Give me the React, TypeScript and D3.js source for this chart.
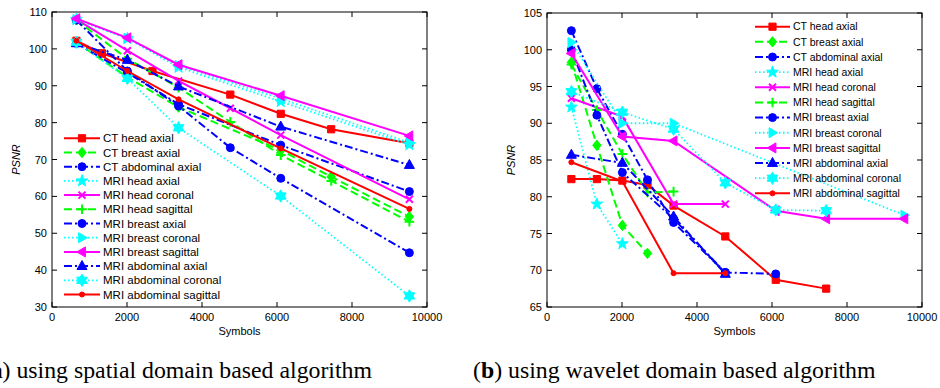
import React from 'react';
import * as d3 from 'd3';

// ---------- data ----------
const SERIES_NAMES = [
  'CT head axial',
  'CT breast axial',
  'CT abdominal axial',
  'MRI head axial',
  'MRI head coronal',
  'MRI head sagittal',
  'MRI breast axial',
  'MRI breast coronal',
  'MRI breast sagittal',
  'MRI abdominal axial',
  'MRI abdominal coronal',
  'MRI abdominal sagittal',
];

const X_TICKS = [0, 2000, 4000, 6000, 8000, 10000];
const SPATIAL_Y_TICKS = [30, 40, 50, 60, 70, 80, 90, 100, 110];
const WAVELET_Y_TICKS = [65, 70, 75, 80, 85, 90, 95, 100, 105];

// (a) spatial domain: symbols per series
const SPATIAL_X = [
  [650, 1330, 2680, 4755, 6100, 7445, 9530],
  [650, 2010, 3375, 6100, 7445, 9530],
  [650, 2010, 3375, 6100, 9530],
  [650, 2010, 3375, 6100, 9530],
  [650, 2010, 3375, 4755, 6100, 9530],
  [650, 2010, 3375, 4755, 6100, 7445, 9530],
  [650, 2010, 3375, 4755, 6100, 9530],
  [650, 2010, 3375, 6100, 9530],
  [650, 2010, 3375, 6100, 9530],
  [650, 2010, 3375, 6100, 9530],
  [650, 2010, 3375, 6100, 9530],
  [650, 2010, 3375, 6100, 9530],
];
// (a) spatial domain: PSNR per series
const SPATIAL_Y = [
  [102.2, 98.8, 94.0, 87.6, 82.4, 78.2, 74.4],
  [101.8, 92.3, 84.2, 72.5, 65.3, 54.5],
  [101.5, 93.5, 85.0, 73.9, 61.3],
  [108.0, 102.8, 95.0, 85.7, 74.0],
  [108.0, 99.5, 91.3, 83.9, 76.6, 59.2],
  [107.8, 97.3, 89.5, 80.2, 71.2, 64.2, 53.1],
  [107.8, 94.0, 84.5, 73.2, 64.9, 44.7],
  [108.0, 102.9, 95.5, 86.5, 74.6],
  [108.2, 103.0, 95.7, 87.3, 76.4],
  [101.5, 97.0, 89.8, 78.9, 68.5],
  [101.8, 92.0, 78.6, 60.1, 33.0],
  [102.2, 94.0, 86.3, 73.0, 56.6],
];

// (b) wavelet domain: symbols per series
const WAVELET_X = [
  [650, 1330, 2010, 2680, 3375, 4755, 6100, 7445],
  [650, 1330, 2010, 2680],
  [650, 1330, 2010, 2680, 3375, 4755, 6100],
  [650, 1330, 2010],
  [650, 2010, 3375, 4755],
  [650, 1330, 2010, 2680, 3375],
  [650, 1330, 2010, 3375, 4755],
  [650, 2010, 3375, 9530],
  [650, 2010, 3375, 6100, 7445, 9530],
  [650, 2010, 3375, 4755],
  [650, 2010, 3375, 4755, 6100, 7445],
  [650, 2010, 3375, 4755],
];
// (b) wavelet domain: PSNR per series
const WAVELET_Y = [
  [82.4, 82.4, 82.2, 81.6, 78.8, 74.6, 68.7, 67.5],
  [98.3, 87.0, 76.1, 72.3],
  [102.6, 94.7, 88.5, 82.3, 76.5, 69.7, 69.5],
  [92.2, 79.0, 73.6],
  [93.4, 90.9, 79.0, 79.0],
  [98.0, 91.8, 85.8, 80.6, 80.7],
  [100.0, 91.1, 83.3, 77.0, 69.7],
  [101.0, 90.0, 90.0, 77.5],
  [99.5, 88.2, 87.6, 78.1, 77.0, 77.0],
  [85.7, 84.6, 77.3, 69.5],
  [94.3, 91.5, 89.2, 81.9, 78.2, 78.1],
  [84.7, 82.1, 69.6, 69.6],
];

// ---------- styles ----------
const RED = '#ff0000', GREEN = '#00ff00', BLUE = '#0000ff', CYAN = '#00ffff', MAG = '#ff00ff';
const STYLES = [
  { color: RED, dash: 'solid', marker: 'square' },
  { color: GREEN, dash: 'dashed', marker: 'diamond' },
  { color: BLUE, dash: 'dashdot', marker: 'circle' },
  { color: CYAN, dash: 'dotted', marker: 'pentagram' },
  { color: MAG, dash: 'solid', marker: 'x' },
  { color: GREEN, dash: 'dashed', marker: 'plus' },
  { color: BLUE, dash: 'dashdot', marker: 'circle' },
  { color: CYAN, dash: 'dotted', marker: 'triright' },
  { color: MAG, dash: 'solid', marker: 'trileft' },
  { color: BLUE, dash: 'dashdot', marker: 'triup' },
  { color: CYAN, dash: 'dotted', marker: 'hexagram' },
  { color: RED, dash: 'solid', marker: 'dot' },
];

const DASH: Record<string, string | undefined> = {
  solid: undefined,
  dashed: '8,4',
  dashdot: '8,3,2,3',
  dotted: '1.5,2.5',
};

function starPath(points: number, R: number, r: number): string {
  const pts: string[] = [];
  for (let i = 0; i < points * 2; i++) {
    const a = -Math.PI / 2 + (i * Math.PI) / points;
    const rad = i % 2 === 0 ? R : r;
    pts.push(`${(rad * Math.cos(a)).toFixed(2)},${(rad * Math.sin(a)).toFixed(2)}`);
  }
  return 'M' + pts.join('L') + 'Z';
}

function markerPath(m: string): string {
  switch (m) {
    case 'square':
      return 'M-3.6,-3.6h7.2v7.2h-7.2Z';
    case 'diamond':
      return 'M0,-5.2L4.2,0L0,5.2L-4.2,0Z';
    case 'circle':
      return d3.symbol(d3.symbolCircle, 50)()!;
    case 'pentagram':
      return starPath(5, 6.2, 2.5);
    case 'hexagram':
      return starPath(6, 6.2, 3.6);
    case 'x':
      return 'M-3.5,-3.5L3.5,3.5M-3.5,3.5L3.5,-3.5';
    case 'plus':
      return 'M-4.8,0H4.8M0,-4.8V4.8';
    case 'triright':
      return 'M5.2,0L-3.4,-5L-3.4,5Z';
    case 'trileft':
      return 'M-5.2,0L3.4,-5L3.4,5Z';
    case 'triup':
      return 'M0,-5.6L5,3.4L-5,3.4Z';
    case 'dot':
      return d3.symbol(d3.symbolCircle, 20)()!;
    default:
      return '';
  }
}

function Marker({ m, color, x, y }: { m: string; color: string; x: number; y: number }) {
  const open = m === 'x' || m === 'plus';
  return (
    <path
      d={markerPath(m)}
      transform={`translate(${x},${y})`}
      fill={open ? 'none' : color}
      stroke={color}
      strokeWidth={open ? 2 : 1}
    />
  );
}

interface ChartProps {
  x0: number; x1: number; y0: number; y1: number;
  yDomain: [number, number];
  yTicks: number[];
  xs: number[][];
  ys: number[][];
  legendX: number; legendY: number; legendStep: number; legendFont: number; legendLine: number;
  ylabelX: number;
}

function Chart(p: ChartProps) {
  const xScale = d3.scaleLinear().domain([0, 10000]).range([p.x0, p.x1]);
  const yScale = d3.scaleLinear().domain(p.yDomain).range([p.y1, p.y0]);
  const line = d3
    .line<[number, number]>()
    .x((d) => xScale(d[0]))
    .y((d) => yScale(d[1]));
  const tick = 5;
  return (
    <g>
      {p.xs.map((xv, i) => {
        const st = STYLES[i];
        const pts = xv.map((x, j) => [x, p.ys[i][j]] as [number, number]);
        return (
          <g key={i}>
            <path
              d={line(pts)!}
              fill="none"
              stroke={st.color}
              strokeWidth={st.dash === 'dotted' ? 1.8 : 2}
              strokeDasharray={DASH[st.dash]}
            />
            {pts.map((d, j) => (
              <Marker key={j} m={st.marker} color={st.color} x={xScale(d[0])} y={yScale(d[1])} />
            ))}
          </g>
        );
      })}
      <rect x={p.x0} y={p.y0} width={p.x1 - p.x0} height={p.y1 - p.y0} fill="none" stroke="#000" strokeWidth={1} />
      {X_TICKS.map((t) => (
        <g key={'x' + t}>
          <line x1={xScale(t)} x2={xScale(t)} y1={p.y1} y2={p.y1 - tick} stroke="#000" />
          <line x1={xScale(t)} x2={xScale(t)} y1={p.y0} y2={p.y0 + tick} stroke="#000" />
          <text x={xScale(t)} y={p.y1 + 14} textAnchor="middle" fontSize={11}>
            {t}
          </text>
        </g>
      ))}
      {p.yTicks.map((t) => (
        <g key={'y' + t}>
          <line x1={p.x0} x2={p.x0 + tick} y1={yScale(t)} y2={yScale(t)} stroke="#000" />
          <line x1={p.x1} x2={p.x1 - tick} y1={yScale(t)} y2={yScale(t)} stroke="#000" />
          <text x={p.x0 - 5} y={yScale(t) + 4} textAnchor="end" fontSize={11}>
            {t}
          </text>
        </g>
      ))}
      <text x={(p.x0 + p.x1) / 2} y={p.y1 + 28} textAnchor="middle" fontSize={11}>
        Symbols
      </text>
      <text
        transform={`translate(${p.ylabelX},${(p.y0 + p.y1) / 2}) rotate(-90)`}
        textAnchor="middle"
        fontSize={11}
        fontStyle="italic"
      >
        PSNR
      </text>
      {SERIES_NAMES.map((name, i) => {
        const st = STYLES[i];
        const cy = p.legendY + i * p.legendStep;
        const lx0 = p.legendX;
        const lx1 = p.legendX + p.legendLine;
        return (
          <g key={'l' + i}>
            <line
              x1={lx0}
              x2={lx1}
              y1={cy}
              y2={cy}
              stroke={st.color}
              strokeWidth={st.dash === 'dotted' ? 1.8 : 2}
              strokeDasharray={DASH[st.dash]}
            />
            <Marker m={st.marker} color={st.color} x={(lx0 + lx1) / 2} y={cy} />
            <text x={lx1 + 3} y={cy + p.legendFont * 0.36} fontSize={p.legendFont}>
              {name}
            </text>
          </g>
        );
      })}
    </g>
  );
}

export default function App() {
  return (
    <svg
      width={940}
      height={388}
      style={{ position: 'absolute', left: 0, top: 0, background: '#fff' }}
      fontFamily="'Liberation Sans', Arial, sans-serif"
    >
      <rect x={0} y={0} width={940} height={388} fill="#fff" />
      <Chart
        x0={52} x1={427} y0={12} y1={307}
        yDomain={[30, 110]} yTicks={SPATIAL_Y_TICKS}
        xs={SPATIAL_X} ys={SPATIAL_Y}
        legendX={64} legendY={138.3} legendStep={14.2} legendFont={11.5} legendLine={36}
        ylabelX={20}
      />
      <Chart
        x0={547} x1={922} y0={13} y1={307}
        yDomain={[65, 105]} yTicks={WAVELET_Y_TICKS}
        xs={WAVELET_X} ys={WAVELET_Y}
        legendX={755} legendY={26.7} legendStep={15.15} legendFont={10.5} legendLine={35}
        ylabelX={515}
      />
      <text x={372} y={378} textAnchor="end" fontSize={23.8} fontFamily="'Liberation Serif', 'Times New Roman', serif">
        (<tspan fontWeight="bold">a</tspan>) using spatial domain based algorithm
      </text>
      <text x={473} y={378} fontSize={23.8} fontFamily="'Liberation Serif', 'Times New Roman', serif">
        (<tspan fontWeight="bold">b</tspan>) using wavelet domain based algorithm
      </text>
    </svg>
  );
}
